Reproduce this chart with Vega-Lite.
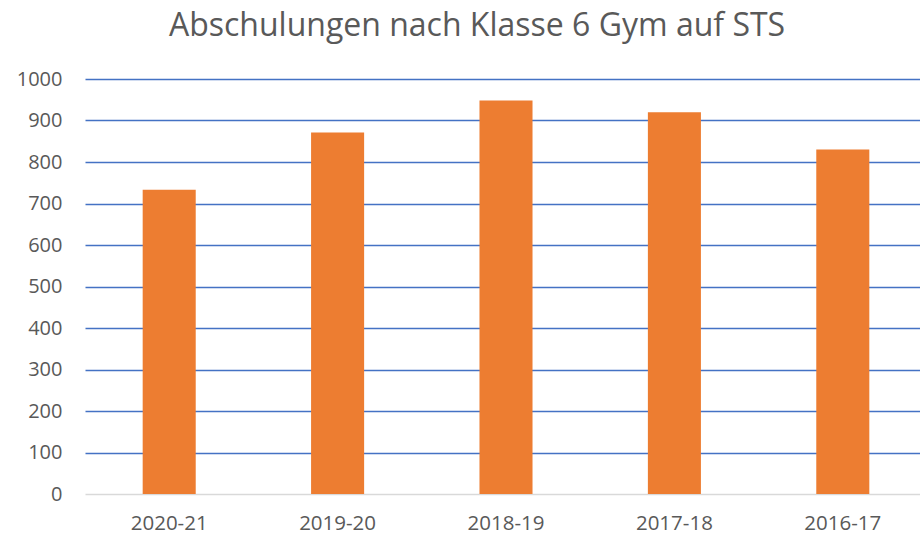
{
  "$schema": "https://vega.github.io/schema/vega-lite/v6.json",
  "autosize": {"type": "none"},
  "padding": {"left": 85, "top": 79, "right": 0, "bottom": 41},
  "width": 842,
  "height": 415,
  "background": "white",
  "title": {
    "text": "Abschulungen nach Klasse 6 Gym auf STS",
    "font": "Open Sans",
    "fontSize": 32,
    "fontWeight": "normal",
    "color": "#595959",
    "anchor": "middle",
    "frame": "group",
    "dx": -29,
    "offset": 26
  },
  "data": {
    "values": [
      {"jahr": "2020-21", "anzahl": 733},
      {"jahr": "2019-20", "anzahl": 871},
      {"jahr": "2018-19", "anzahl": 948},
      {"jahr": "2017-18", "anzahl": 920},
      {"jahr": "2016-17", "anzahl": 830}
    ]
  },
  "mark": {"type": "bar", "color": "#ED7D31"},
  "encoding": {
    "x": {
      "field": "jahr",
      "type": "nominal",
      "sort": null,
      "scale": {"paddingInner": 0.685, "paddingOuter": 0.3425},
      "axis": {
        "title": null,
        "labelAngle": 0,
        "labelFont": "Open Sans",
        "labelFontSize": 20.5,
        "labelColor": "#595959",
        "labelPadding": 19,
        "ticks": false,
        "domain": false,
        "grid": false
      }
    },
    "y": {
      "field": "anzahl",
      "type": "quantitative",
      "scale": {"domain": [0, 1000], "nice": false},
      "axis": {
        "title": null,
        "format": "d",
        "values": [0, 100, 200, 300, 400, 500, 600, 700, 800, 900, 1000],
        "labelFont": "Open Sans",
        "labelFontSize": 20,
        "labelColor": "#595959",
        "labelPadding": 23,
        "ticks": false,
        "domain": false,
        "grid": true,
        "gridColor": {"condition": {"test": "datum.value === 0", "value": "#D9D9D9"}, "value": "#4472C4"},
        "gridWidth": 1.6,
        "gridOpacity": 1
      }
    }
  },
  "config": {"view": {"stroke": null}}
}
